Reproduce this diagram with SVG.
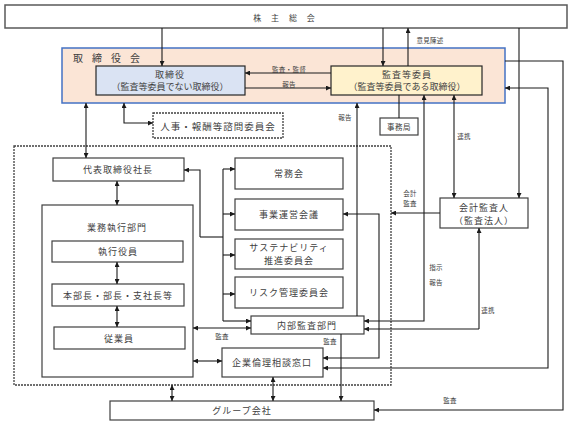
<svg xmlns="http://www.w3.org/2000/svg" width="572" height="425" viewBox="0 0 572 425">
<defs>
<marker id="ah" viewBox="0 0 10 10" refX="10" refY="5" markerWidth="5" markerHeight="5" markerUnits="userSpaceOnUse" orient="auto-start-reverse">
<path d="M0,0 L10,5 L0,10 z" fill="#1a1a1a"/>
</marker>
<style>
.box{fill:#fff;stroke:#404040;stroke-width:1.2}
.t{font-family:"Noto Sans CJK JP","Noto Sans CJK SC",sans-serif;font-size:9px;letter-spacing:1px;fill:#404040;text-anchor:middle;dominant-baseline:central}
.l{font-family:"Noto Sans CJK JP","Noto Sans CJK SC",sans-serif;font-size:6.5px;letter-spacing:0.3px;fill:#404040;text-anchor:middle;dominant-baseline:central}
.c{fill:none;stroke:#1a1a1a;stroke-width:1.1}
.e{marker-end:url(#ah)}
.b{marker-start:url(#ah);marker-end:url(#ah)}
.dot{fill:none;stroke:#404040;stroke-width:1.3;stroke-dasharray:2 1}
</style>
</defs>
<rect width="572" height="425" fill="#fff"/>

<g id="kabunushi">
<rect x="5" y="5" width="562" height="23" fill="#fff" stroke="#595959" stroke-width="1.5"/>
<text class="t" x="286" y="17" style="font-size:8px;letter-spacing:4px">株 主 総 会</text>
</g>

<g id="torishimariyakukai">
<rect x="62" y="48" width="443" height="55" fill="#fbe5d6" stroke="#4472c4" stroke-width="1.5"/>
<text class="t" x="73" y="57" style="font-size:10px;letter-spacing:3.4px;text-anchor:start">取 締 役 会</text>
</g>

<g id="torishimariyaku">
<rect x="96" y="66" width="149" height="29" fill="#dae3f3" stroke="#262626" stroke-width="1.2"/>
<text class="t" x="170" y="74">取締役</text>
<text class="t" x="170" y="86" style="letter-spacing:0">（監査等委員でない取締役）</text>
</g>

<g id="kansatouiin">
<rect x="331" y="66" width="151" height="29" fill="#fff2cc" stroke="#262626" stroke-width="1.2"/>
<text class="t" x="407" y="74">監査等委員</text>
<text class="t" x="407" y="86" style="letter-spacing:0">（監査等委員である取締役）</text>
</g>

<g id="jinji">
<rect x="153" y="113" width="130" height="25" fill="#fff" class="dot"/>
<text class="t" x="218" y="125.5" style="font-size:9.5px">人事・報酬等諮問委員会</text>
</g>

<g id="jimukyoku">
<rect class="box" x="380" y="118" width="38" height="17"/>
<text class="t" x="399" y="126.5" style="font-size:7.5px;letter-spacing:0.5px">事務局</text>
</g>

<g id="shikkouframe">
<rect x="14" y="146" width="377" height="239" class="dot"/>
</g>

<g id="daihyou">
<rect class="box" x="53" y="158" width="131" height="23"/>
<text class="t" x="118" y="169.5">代表取締役社長</text>
</g>

<g id="gyoumu">
<rect class="box" x="42" y="205" width="151" height="172"/>
<text class="t" x="117" y="227">業務執行部門</text>
</g>

<g id="shikkouyakuin">
<rect class="box" x="52" y="241" width="131" height="21"/>
<text class="t" x="118" y="251.5">執行役員</text>
</g>

<g id="honbuchou">
<rect class="box" x="52" y="284" width="132" height="22"/>
<text class="t" x="118" y="295">本部長・部長・支社長等</text>
</g>

<g id="juugyouin">
<rect class="box" x="54" y="327" width="131" height="22"/>
<text class="t" x="119" y="338">従業員</text>
</g>

<g id="joumukai">
<rect class="box" x="235" y="158" width="108" height="31"/>
<text class="t" x="289" y="173.5">常務会</text>
</g>

<g id="jigyouunei">
<rect class="box" x="235" y="199" width="108" height="31"/>
<text class="t" x="289" y="214.5">事業運営会議</text>
</g>

<g id="sustainability">
<rect class="box" x="235" y="239" width="108" height="30"/>
<text class="t" x="289" y="247.5">サステナビリティ</text>
<text class="t" x="289" y="260">推進委員会</text>
</g>

<g id="risk">
<rect class="box" x="235" y="277" width="108" height="31"/>
<text class="t" x="289" y="292.5">リスク管理委員会</text>
</g>

<g id="naibukansa">
<rect class="box" x="251" y="316" width="113" height="18"/>
<text class="t" x="307" y="325">内部監査部門</text>
</g>

<g id="kigyourinri">
<rect class="box" x="222" y="348" width="101" height="29"/>
<text class="t" x="272" y="362.5">企業倫理相談窓口</text>
</g>

<g id="group">
<rect class="box" x="110" y="401" width="264" height="19"/>
<text class="t" x="242" y="410.5">グループ会社</text>
</g>

<g id="kaikeikansanin">
<rect class="box" x="440" y="198" width="88" height="30"/>
<text class="t" x="484" y="207">会計監査人</text>
<text class="t" x="484" y="220">（監査法人）</text>
</g>

<g id="connectors">
<path class="c e" d="M162,28 V66"/>
<path class="c e" d="M383,28 V66"/>
<path class="c e" d="M408,66 V28"/>
<path class="c e" d="M331,73 H245"/>
<path class="c e" d="M245,88 H331"/>
<path class="c b" d="M86,103 V158"/>
<path class="c b" d="M124,103 V123 H153"/>
<path class="c e" d="M357,316 V103"/>
<path class="c" d="M399,95 V118"/>
<path class="c b" d="M424,95 V321 H364"/>
<path class="c b" d="M454,95 V198"/>
<path class="c e" d="M519,28 V198"/>
<path class="c e" d="M479,329 V228"/>
<path class="c e" d="M479,329 H364"/>
<path class="c e" d="M440,213 H391"/>
<path class="c b" d="M505,88 H548 V368 H323"/>
<path class="c e" d="M505,61 H563 V410 H374"/>
<path class="c b" d="M343,214 H379 V358 H323"/>
<path class="c e" d="M200,237 V170 H184"/>
<path class="c" d="M200,237 H223"/>
<path class="c" d="M223,169 V321"/>
<path class="c e" d="M223,169 H235"/>
<path class="c e" d="M223,214 H235"/>
<path class="c e" d="M223,255 H235"/>
<path class="c e" d="M223,294 H235"/>
<path class="c e" d="M223,321 H251"/>
<path class="c b" d="M117,181 V205"/>
<path class="c b" d="M117,262 V284"/>
<path class="c b" d="M117,306 V327"/>
<path class="c b" d="M193,328 H251"/>
<path class="c b" d="M193,361 H222"/>
<path class="c b" d="M172,385 V401"/>
<path class="c b" d="M273,377 V401"/>
<path class="c e" d="M341,334 V401"/>
</g>

<g id="labels">
<text class="l" x="289" y="69">監査・監督</text>
<text class="l" x="289" y="84">報告</text>
<text class="l" x="430" y="40">意見陳述</text>
<text class="l" x="345" y="117">報告</text>
<text class="l" x="464" y="136">連携</text>
<text class="l" x="410" y="193">会計</text>
<text class="l" x="410" y="203">監査</text>
<text class="l" x="436" y="267">指示</text>
<text class="l" x="436" y="282">報告</text>
<text class="l" x="488" y="310">連携</text>
<text class="l" x="222" y="336">監査</text>
<text class="l" x="330" y="341">監査</text>
<text class="l" x="450" y="400">監査</text>
</g>
</svg>
